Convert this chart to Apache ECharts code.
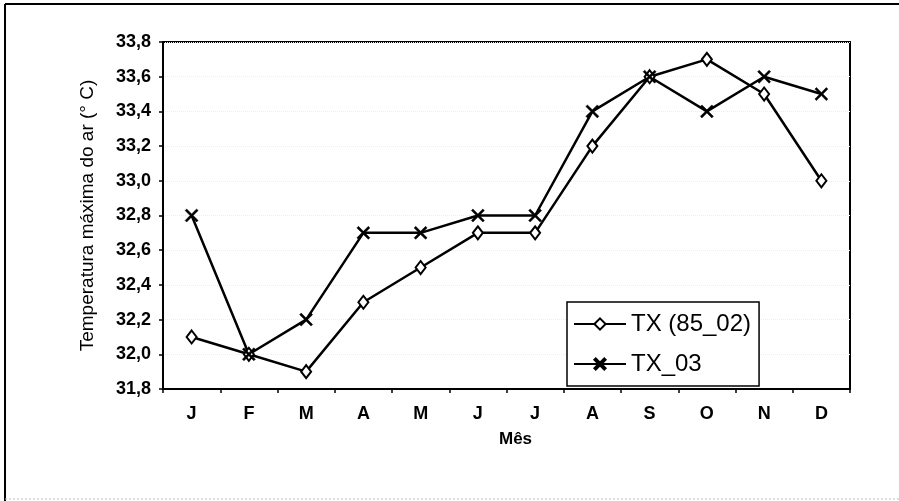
<!DOCTYPE html>
<html>
<head>
<meta charset="utf-8">
<script src="https://cdn.jsdelivr.net/npm/echarts@6/dist/echarts.min.js"></script>
<style>
html,body{margin:0;padding:0;background:#fff;}
#c{width:899px;height:501px;}
</style>
</head>
<body>
<div id="c"></div>
<script>
var months = ['J','F','M','A','M','J','J','A','S','O','N','D'];
var tx8502 = [32.1, 32.0, 31.9, 32.3, 32.5, 32.7, 32.7, 33.2, 33.6, 33.7, 33.5, 33.0];
var tx03   = [32.8, 32.0, 32.2, 32.7, 32.7, 32.8, 32.8, 33.4, 33.6, 33.4, 33.6, 33.5];
var seriesNames = ['TX (85_02)', 'TX_03'];
var yTicks = {min: 31.8, max: 33.8, interval: 0.2};

var crossPath = 'path://M0,1.2 L1.2,0 L5,3.8 L8.8,0 L10,1.2 L6.2,5 L10,8.8 L8.8,10 L5,6.2 L1.2,10 L0,8.8 L3.8,5 Z';
var font = 'Liberation Sans, Arial, sans-serif';

var chart = echarts.init(document.getElementById('c'));
chart.setOption({
  animation: false,
  backgroundColor: '#fff',
  graphic: [{
    type: 'line', silent: true, z: -1,
    shape: {x1: 5, y1: 4, x2: 899, y2: 4},
    style: {stroke: '#000', lineWidth: 2}
  }, {
    type: 'line', silent: true, z: -1,
    shape: {x1: 5, y1: 4, x2: 5, y2: 501},
    style: {stroke: '#000', lineWidth: 2}
  }, {
    type: 'line', silent: true, z: -1,
    shape: {x1: 5, y1: 499, x2: 899, y2: 499},
    style: {stroke: '#bbb', lineWidth: 1, lineDash: [2, 2]}
  }],
  grid: {
    left: 163, top: 42, width: 687, height: 347,
    show: true, borderColor: '#000', borderWidth: 2, backgroundColor: 'transparent'
  },
  xAxis: {
    type: 'category',
    data: months,
    boundaryGap: true,
    name: 'Mês',
    nameLocation: 'middle',
    nameGap: 42,
    nameTextStyle: {fontFamily: font, fontSize: 17, fontWeight: 'bold', color: '#000', padding: [0, 0, 0, 18]},
    axisLine: {lineStyle: {color: '#000', width: 2}},
    axisTick: {show: true, inside: false, length: 4, lineStyle: {color: '#000', width: 1.5}},
    axisLabel: {fontFamily: font, fontSize: 18, fontWeight: 'bold', color: '#000', margin: 16},
    splitLine: {show: false}
  },
  yAxis: {
    type: 'value',
    min: yTicks.min, max: yTicks.max, interval: yTicks.interval,
    name: 'Temperatura máxima do ar (° C)',
    nameLocation: 'middle',
    nameGap: 66,
    nameRotate: 90,
    nameTextStyle: {fontFamily: font, fontSize: 19, color: '#000'},
    axisLine: {show: true, lineStyle: {color: '#000', width: 2}},
    axisTick: {show: true, inside: false, length: 4, lineStyle: {color: '#000', width: 1.5}},
    axisLabel: {
      fontFamily: font, fontSize: 18, fontWeight: 'bold', color: '#000', margin: 12,
      formatter: function (v) { return v.toFixed(1).replace('.', ','); }
    },
    splitLine: {show: true, lineStyle: {color: '#eeeeee', type: 'dotted', width: 1}}
  },
  legend: {
    orient: 'vertical',
    left: 567, top: 302,
    padding: [10, 8, 10, 6],
    itemGap: 16,
    itemWidth: 52, itemHeight: 14,
    backgroundColor: '#fff',
    borderColor: '#000', borderWidth: 1.5, borderRadius: 0,
    textStyle: {fontFamily: font, fontSize: 24, color: '#000'},
    data: seriesNames
  },
  series: [{
    name: seriesNames[0],
    type: 'line',
    data: tx8502,
    symbol: 'diamond',
    symbolSize: [10, 13],
    showAllSymbol: true,
    lineStyle: {color: '#000', width: 2.5},
    itemStyle: {color: '#fff', borderColor: '#000', borderWidth: 2}
  }, {
    name: seriesNames[1],
    type: 'line',
    data: tx03,
    symbol: crossPath,
    symbolSize: 13,
    showAllSymbol: true,
    lineStyle: {color: '#000', width: 2.5},
    itemStyle: {color: '#000', borderColor: '#000', borderWidth: 0.5}
  }]
});
</script>
</body>
</html>
